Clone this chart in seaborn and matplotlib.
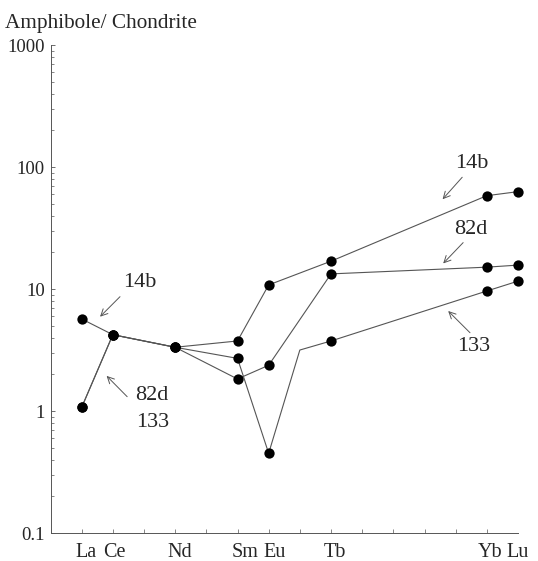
import numpy as np
import pandas as pd
import matplotlib
matplotlib.use("Agg")
import matplotlib.pyplot as plt
from matplotlib.ticker import FixedLocator, FuncFormatter, LogLocator, NullFormatter
import seaborn as sns

# REE positions (La = 1 ... Lu = 15) and chondrite-normalised amphibole data
elements = ["La", "Ce", "Nd", "Sm", "Eu", "Gd", "Tb", "Yb", "Lu"]
element_pos = [1, 2, 4, 6, 7, 8, 9, 14, 15]

# NaN = not reported for that sample
sample_14b = [5.68, 4.22, 3.33, 3.75, 10.8, np.nan, 16.9, 58.2, 62.8]
sample_82d = [1.07, 4.22, 3.33, 1.83, 2.37, np.nan, 13.3, 15.1, 15.7]
sample_133 = [1.07, 4.22, 3.33, 2.70, 0.45, 3.16, 3.75, 9.63, 11.6]
# Gd in sample 133 is an interpolated value (line vertex, no symbol)
measured_133 = [True, True, True, True, True, False, True, True, True]

axis_labels = ["La", "Ce", "Nd", "Sm", "Eu", "Tb", "Yb", "Lu"]
axis_label_pos = [1.15, 2.05, 4.14, 6.25, 7.18, 9.14, 14.11, 15.0]

y_ticks = [0.1, 1, 10, 100, 1000]

rows = []
for name, vals in (("14b", sample_14b), ("82d", sample_82d), ("133", sample_133)):
    for i, (el, x, v) in enumerate(zip(elements, element_pos, vals)):
        if np.isnan(v):
            continue
        meas = measured_133[i] if name == "133" else True
        rows.append({"sample": name, "element": el, "pos": x, "value": v, "measured": meas})
df = pd.DataFrame(rows)

sns.set_style("ticks")
plt.rcParams["font.family"] = ["Liberation Serif", "DejaVu Serif"]

fig = plt.figure(figsize=(5.38, 5.61), dpi=100)
ax = fig.add_axes([50.5 / 538, 1 - 533 / 561, 467.5 / 538, 488 / 561])

sns.lineplot(data=df, x="pos", y="value", hue="sample", units="sample",
             estimator=None, sort=True, palette=["#555555"] * 3,
             linewidth=0.8, legend=False, ax=ax, clip_on=False)
sns.scatterplot(data=df[df["measured"]], x="pos", y="value", color="black",
                s=55, edgecolor="black", linewidth=0, legend=False, ax=ax,
                clip_on=False, zorder=5)

ax.set_yscale("log")
ax.set_ylim(0.1, 1000)
ax.set_xlim(0, 15)

ax.yaxis.set_major_locator(FixedLocator(y_ticks))
ax.yaxis.set_major_formatter(FuncFormatter(lambda v, p: f"{v:g}"))
ax.yaxis.set_minor_locator(LogLocator(base=10, subs=np.arange(2, 10), numticks=20))
ax.yaxis.set_minor_formatter(NullFormatter())

ax.set_xticks(axis_label_pos, axis_labels)
ax.xaxis.set_minor_locator(FixedLocator(np.arange(0, 16)))

ax.tick_params(axis="y", which="major", direction="in", length=3, width=0.6,
               color="#555555", labelsize=13.5, pad=4)
ax.tick_params(axis="y", which="minor", direction="in", length=2, width=0.5,
               color="#555555")
ax.tick_params(axis="x", which="major", length=0, labelsize=14.5, pad=7)
ax.tick_params(axis="x", which="minor", direction="in", length=3, width=0.5,
               color="#555555")

for side in ("top", "right"):
    ax.spines[side].set_visible(False)
for side in ("left", "bottom"):
    ax.spines[side].set_linewidth(0.7)
    ax.spines[side].set_color("#555555")

ax.set_xlabel("")
ax.set_ylabel("")

arrow = dict(arrowstyle="->", color="#555555", lw=0.7, shrinkA=0, shrinkB=0,
             mutation_scale=12)
txt = dict(fontsize=16, ha="center", va="center")

# sample labels with pointer arrows
ax.text(2.87, 11.2, "14b", **txt)
ax.annotate("", xy=(1.59, 5.93), xytext=(2.23, 8.65), arrowprops=arrow)
ax.text(3.25, 1.35, "82d", **txt)
ax.text(3.29, 0.80, "133", **txt)
ax.annotate("", xy=(1.80, 1.94), xytext=(2.46, 1.31), arrowprops=arrow)

ax.text(13.51, 106, "14b", **txt)
ax.annotate("", xy=(12.58, 54.4), xytext=(13.21, 82.4), arrowprops=arrow)
ax.text(13.48, 30.5, "82d", **txt)
ax.annotate("", xy=(12.60, 16.2), xytext=(13.24, 24.0), arrowprops=arrow)
ax.text(13.59, 3.37, "133", **txt)
ax.annotate("", xy=(12.76, 6.6), xytext=(13.46, 4.38), arrowprops=arrow)

fig.text(5 / 538, 1 - 28 / 561, "Amphibole/ Chondrite", fontsize=15.3,
         ha="left", va="baseline")

fig.savefig("out.png", dpi=100, facecolor="white")
